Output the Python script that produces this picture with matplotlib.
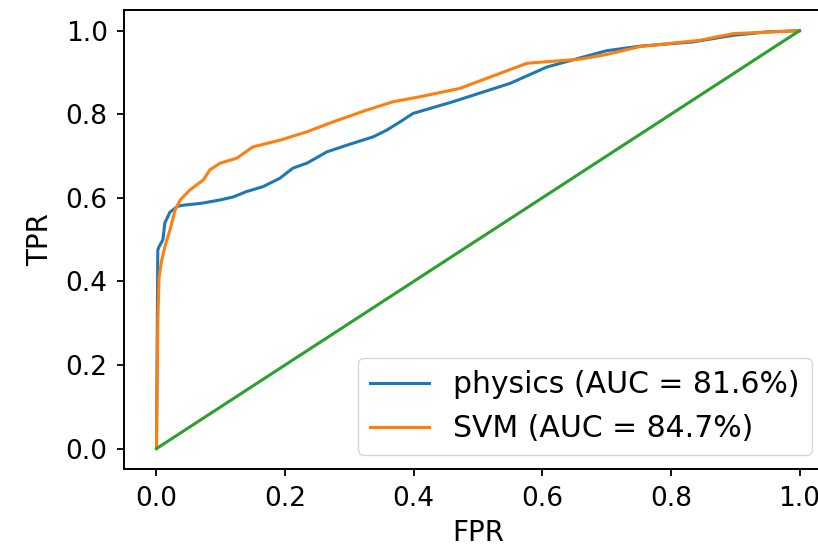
import matplotlib
matplotlib.use('Agg')
import matplotlib.pyplot as plt

# ROC points
phys_fpr = [0, 0.002, 0.004, 0.01, 0.013, 0.021, 0.033, 0.045, 0.07, 0.099, 0.119, 0.14,
            0.166, 0.192, 0.212, 0.234, 0.265, 0.296, 0.337, 0.358, 0.379, 0.399, 0.461,
            0.55, 0.607, 0.659, 0.70, 0.752, 0.834, 0.897, 0.949, 1.0]
phys_tpr = [0, 0.475, 0.483, 0.5, 0.54, 0.566, 0.58, 0.583, 0.587, 0.595, 0.602, 0.615,
            0.627, 0.647, 0.671, 0.683, 0.71, 0.726, 0.746, 0.762, 0.782, 0.802, 0.83,
            0.874, 0.913, 0.935, 0.952, 0.963, 0.973, 0.989, 0.997, 1.0]

svm_fpr = [0, 0.002, 0.004, 0.008, 0.013, 0.021, 0.029, 0.037, 0.052, 0.073, 0.083, 0.099,
           0.125, 0.15, 0.192, 0.234, 0.275, 0.327, 0.368, 0.41, 0.472, 0.576, 0.659,
           0.70, 0.752, 0.845, 0.897, 1.0]
svm_tpr = [0, 0.30, 0.41, 0.45, 0.483, 0.523, 0.571, 0.595, 0.619, 0.643, 0.667, 0.683,
           0.695, 0.722, 0.738, 0.758, 0.782, 0.81, 0.83, 0.842, 0.862, 0.922, 0.932,
           0.943, 0.962, 0.977, 0.993, 1.0]

chance = [0, 1]

labels = ["physics (AUC = 81.6%)", "SVM (AUC = 84.7%)"]

plt.rcParams['font.size'] = 19

fig = plt.figure(figsize=(8.18, 5.5), dpi=100)
ax = fig.add_axes([0.152, 0.1464, 0.8647, 0.8358])

ax.plot(phys_fpr, phys_tpr, color='C0', lw=2.2, label=labels[0])
ax.plot(svm_fpr, svm_tpr, color='C1', lw=2.2, label=labels[1])
ax.plot(chance, chance, color='C2', lw=2.2)

ax.set_xlim(-0.05, 1.05)
ax.set_ylim(-0.05, 1.05)
ax.set_xticks([0, 0.2, 0.4, 0.6, 0.8, 1.0])
ax.set_yticks([0, 0.2, 0.4, 0.6, 0.8, 1.0])
ax.set_xlabel("FPR", fontsize=20, labelpad=5)
ax.set_ylabel("TPR", fontsize=20, labelpad=8)
ax.tick_params(length=5, width=1.3, pad=7)
for s in ax.spines.values():
    s.set_linewidth(1.4)

ax.legend(loc='lower right', bbox_to_anchor=(811.7 / 818, 95 / 550),
          bbox_transform=fig.transFigure, borderaxespad=0, fontsize=21.5)

fig.savefig('out.png', dpi=100)
